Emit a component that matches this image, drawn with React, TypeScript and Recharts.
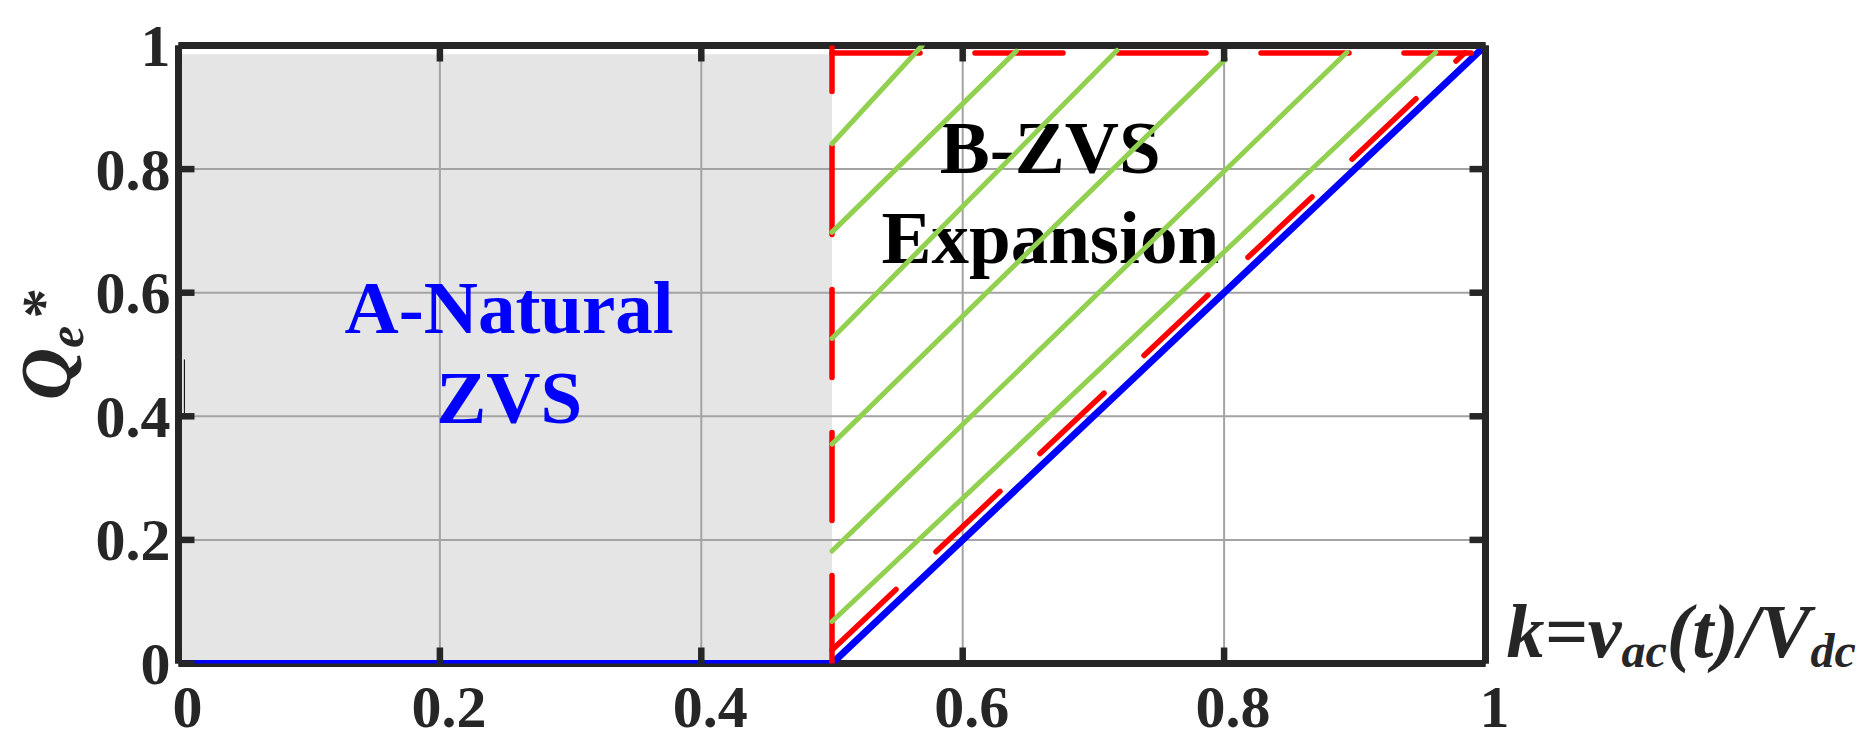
import {
  LineChart,
  Line,
  XAxis,
  YAxis,
  CartesianGrid,
  ReferenceArea,
  ReferenceLine,
  Scatter,
} from "recharts";

// axis ticks (k on x, Qe* on y)
const kTicks = [0, 0.2, 0.4, 0.6, 0.8, 1];
const qTicks = [0, 0.2, 0.4, 0.6, 0.8, 1];

// blue boundary of natural ZVS
const blueBoundary = [
  { k: 0, q: 0 },
  { k: 0.5, q: 0 },
  { k: 1, q: 1 },
];

// red dashed outline of the B region
const redVertical = [
  { k: 0.5, q: 0 },
  { k: 0.5, q: 1.0 },
];
const redTop = [
  { k: 0.5, q: 0.988 },
  { k: 0.989, q: 0.988 },
];
const redDiagonal = [
  { k: 0.5, q: 0.022 },
  { k: 0.984, q: 0.988 },
];

// green hatch lines
const hatch1 = [{ k: 0.5, q: 0.841 }, { k: 0.569, q: 1.0 }];
const hatch2 = [{ k: 0.5, q: 0.698 }, { k: 0.641, q: 0.991 }];
const hatch3 = [{ k: 0.5, q: 0.526 }, { k: 0.718, q: 0.992 }];
const hatch4 = [{ k: 0.5, q: 0.355 }, { k: 0.801, q: 0.978 }];
const hatch5 = [{ k: 0.5, q: 0.182 }, { k: 0.894, q: 0.989 }];
const hatch6 = [{ k: 0.5, q: 0.068 }, { k: 0.962, q: 0.989 }];
const hatches = [hatch1, hatch2, hatch3, hatch4, hatch5, hatch6];

// region captions
const regionLabels = [
  { k: 0.253, q: 0.4616, lines: ["A-Natural", "ZVS"] },
  { k: 0.667, q: 0.721, lines: ["B-ZVS", "Expansion"] },
];
const regionColors = ["#0000ff", "#000000"];

const AXIS = "#262626";
const FONT = "'Liberation Serif', 'Times New Roman', serif";
const TICK_W = 6.5;
const TICK_LEN = 16;

function BottomTick({ x, y, payload }: any) {
  return (
    <g>
      <line x1={x} y1={y} x2={x} y2={y - TICK_LEN} stroke={AXIS} strokeWidth={TICK_W} />
      <text x={x + 9} y={y + 63} textAnchor="middle" fontFamily={FONT} fontWeight="bold" fontSize={60} fill={AXIS}>
        {String(payload.value)}
      </text>
    </g>
  );
}

function LeftTick({ x, y, payload }: any) {
  return (
    <g>
      <line x1={x} y1={y} x2={x + TICK_LEN} y2={y} stroke={AXIS} strokeWidth={TICK_W} />
      <text x={x - 8} y={y + 20.5} textAnchor="end" fontFamily={FONT} fontWeight="bold" fontSize={60} fill={AXIS}>
        {String(payload.value)}
      </text>
    </g>
  );
}

function TopTick({ x, y }: any) {
  return <line x1={x} y1={y} x2={x} y2={y + TICK_LEN} stroke={AXIS} strokeWidth={TICK_W} />;
}

function RightTick({ x, y }: any) {
  return <line x1={x} y1={y} x2={x - TICK_LEN} y2={y} stroke={AXIS} strokeWidth={TICK_W} />;
}

function YTitle({ viewBox }: any) {
  const x = viewBox.x - 28.5;
  const y = viewBox.y + 354.5;
  return (
    <text
      transform={`translate(${x},${y}) rotate(-90)`}
      fontFamily={FONT}
      fontWeight="bold"
      fontStyle="italic"
      fill={AXIS}
    >
      <tspan fontSize={72}>Q</tspan>
      <tspan fontSize={50} dy={13}>e</tspan>
      <tspan fontSize={60} dy={-20} dx={5}>*</tspan>
    </text>
  );
}

function XTitle({ viewBox }: any) {
  const x = viewBox.x + viewBox.width + 21;
  const y = viewBox.y - 7;
  return (
    <text x={x} y={y} fontFamily={FONT} fontWeight="bold" fontStyle="italic" fontSize={76} fill={AXIS}>
      <tspan>k=v</tspan>
      <tspan fontSize={48} dy={10}>ac</tspan>
      <tspan dy={-10}>(t)/V</tspan>
      <tspan fontSize={48} dy={10}>dc</tspan>
    </text>
  );
}

function RegionText(props: any) {
  const { cx, cy, payload, index } = props;
  const color = regionColors[index ?? regionLabels.indexOf(payload)] || "#000";
  return (
    <text textAnchor="middle" fontFamily={FONT} fontWeight="bold" fontSize={75} fill={color}>
      <tspan x={cx} y={cy - 45}>{payload.lines[0]}</tspan>
      <tspan x={cx} y={cy + 45}>{payload.lines[1]}</tspan>
    </text>
  );
}

export default function App() {
  return (
    <div style={{ position: "absolute", left: 0, top: 0, width: 1866, height: 741, background: "#fff" }}>
      <LineChart
        width={1866}
        height={741}
        margin={{ top: 44.5, right: 379.5, bottom: 17.5, left: 98.5 }}
      >
        <ReferenceArea
          x1={0}
          x2={0.5}
          y1={0}
          y2={0.986}
          fill="#e5e5e5"
          fillOpacity={1}
          stroke="none"
          zIndex={-200}
        />
        <CartesianGrid stroke="#a3a3a3" strokeWidth={2} />
        <XAxis
          dataKey="k"
          type="number"
          domain={[0, 1]}
          ticks={kTicks}
          allowDataOverflow
          height={60}
          tickSize={0}
          tickMargin={0}
          tickLine={false}
          axisLine={{ stroke: AXIS, strokeWidth: 7 }}
          tick={<BottomTick />}
          interval={0}
          label={<XTitle />}
        />
        <XAxis
          xAxisId="top"
          orientation="top"
          dataKey="k"
          type="number"
          domain={[0, 1]}
          ticks={kTicks}
          allowDataOverflow
          height={1}
          tickSize={0}
          tickMargin={0}
          tickLine={false}
          axisLine={{ stroke: AXIS, strokeWidth: 7 }}
          tick={<TopTick />}
          interval={0}
        />
        <YAxis
          type="number"
          domain={[0, 1]}
          ticks={qTicks}
          allowDataOverflow
          width={80}
          tickSize={0}
          tickMargin={0}
          tickLine={false}
          axisLine={{ stroke: AXIS, strokeWidth: 7 }}
          tick={<LeftTick />}
          interval={0}
          label={<YTitle />}
        />
        <YAxis
          yAxisId="right"
          orientation="right"
          type="number"
          domain={[0, 1]}
          ticks={qTicks}
          allowDataOverflow
          width={1}
          tickSize={0}
          tickMargin={0}
          tickLine={false}
          axisLine={{ stroke: AXIS, strokeWidth: 7 }}
          tick={<RightTick />}
          interval={0}
        />
        <ReferenceLine
          segment={[
            { x: 0.0045, y: 0.4 },
            { x: 0.0045, y: 0.492 },
          ]}
          stroke="#000"
          strokeWidth={1}
          zIndex={540}
        />
        <Scatter
          data={regionLabels}
          dataKey="q"
          shape={(p: any) => <RegionText {...p} />}
          isAnimationActive={false}
          zIndex={550}
        />
        <Line
          data={blueBoundary}
          dataKey="q"
          stroke="#0000ff"
          strokeWidth={7}
          dot={false}
          activeDot={false}
          isAnimationActive={false}
          type="linear"
          zIndex={600}
        />
        {[redVertical, redTop, redDiagonal].map((d, i) => (
          <Line
            key={"red" + i}
            data={d}
            dataKey="q"
            stroke="#ff0000"
            strokeWidth={5.5}
            strokeDasharray="88 55"
            strokeLinecap="round"
            dot={false}
            activeDot={false}
            isAnimationActive={false}
            type="linear"
            zIndex={610}
          />
        ))}
        {hatches.map((d, i) => (
          <Line
            key={"hatch" + i}
            data={d}
            dataKey="q"
            stroke="#92d050"
            strokeWidth={5}
            strokeLinecap="round"
            dot={false}
            activeDot={false}
            isAnimationActive={false}
            type="linear"
            zIndex={620}
          />
        ))}
      </LineChart>
    </div>
  );
}
